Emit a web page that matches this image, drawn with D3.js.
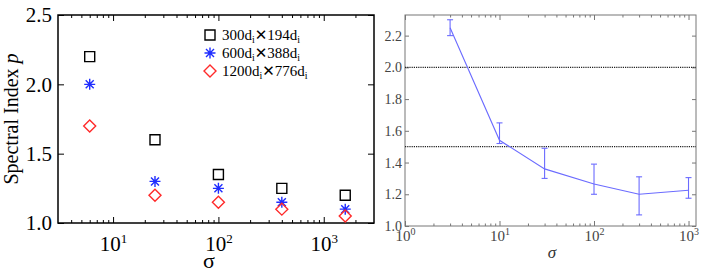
<!DOCTYPE html>
<html>
<head>
<meta charset="utf-8">
<script src="https://cdn.jsdelivr.net/npm/d3@7"></script>
<style>
  body { margin: 0; background: #fff; }
  svg { display: block; }
  svg text { font-family: "Liberation Serif", "Times New Roman", serif; }
  .sans { font-family: "DejaVu Sans", sans-serif; }
</style>
</head>
<body>
<svg id="chart" width="706" height="273"></svg>
<script>
// left panel: spectral index vs sigma for three box sizes
const sigmaL = [6, 25, 100, 400, 1600];
const pSmall = [2.2, 1.6, 1.35, 1.25, 1.2];
const pMid = [2.0, 1.3, 1.25, 1.15, 1.1];
const pLarge = [1.7, 1.2, 1.15, 1.1, 1.05];
const legendLabels = [
  ["300", "194"],
  ["600", "388"],
  ["1200", "776"],
];
const yTicksL = [1.0, 1.5, 2.0, 2.5];
const xMajorL = [10, 100, 1000];

// right panel: mean index with error bars
const sigmaR = [3, 10, 30, 100, 300, 1000];
const pMean = [2.25, 1.54, 1.36, 1.265, 1.2, 1.225];
const pLow = [2.2, 1.52, 1.3, 1.2, 1.07, 1.175];
const pHigh = [2.3, 1.65, 1.49, 1.39, 1.31, 1.305];
const refLines = [2.0, 1.5];
const yTicksR = [1.0, 1.2, 1.4, 1.6, 1.8, 2.0, 2.2];
const xMajorR = [1, 10, 100, 1000];

const svg = d3.select("#chart");

function minorTicks(lo, hi) {
  const out = [];
  for (let d = Math.pow(10, Math.floor(Math.log10(lo))); d < hi; d *= 10) {
    for (let k = 2; k <= 9; k++) {
      const v = k * d;
      if (v > lo && v < hi) out.push(v);
    }
  }
  return out;
}

function powLabels(sel, supSize, supDy) {
  sel.selectAll(".tick text").each(function (d) {
    const t = d3.select(this).text("");
    t.append("tspan").text("10");
    t.append("tspan")
      .attr("dy", supDy)
      .style("font-size", supSize + "px")
      .text(Math.round(Math.log10(d)));
  });
}

function styleAxis(g, color, width) {
  g.attr("font-family", null);
  g.select(".domain").remove();
  g.selectAll(".tick line").attr("stroke", color).attr("stroke-width", width);
}

// ---------- left panel ----------
const xL = d3.scaleLog().domain([3, 3000]).range([58, 374]);
const yL = d3.scaleLinear().domain([1, 2.5]).range([223, 15]);
const left = svg.append("g");

left.append("g")
  .attr("transform", `translate(0,${yL.range()[0]})`)
  .call(d3.axisBottom(xL).tickValues(minorTicks(3, 3000)).tickSize(-3).tickFormat(""))
  .call((g) => styleAxis(g, "#000", 1));
left.append("g")
  .attr("transform", `translate(0,${yL.range()[1]})`)
  .call(d3.axisTop(xL).tickValues(minorTicks(3, 3000)).tickSize(-3).tickFormat(""))
  .call((g) => styleAxis(g, "#000", 1));
left.append("g")
  .attr("transform", `translate(0,${yL.range()[1]})`)
  .call(d3.axisTop(xL).tickValues(xMajorL).tickSize(-6).tickFormat(""))
  .call((g) => styleAxis(g, "#000", 1));
left.append("g")
  .attr("transform", `translate(0,${yL.range()[0]})`)
  .call(d3.axisBottom(xL).tickValues(xMajorL).tickSize(-6).tickPadding(16))
  .call((g) => styleAxis(g, "#000", 1))
  .call((g) =>
    g.selectAll(".tick text")
      .style("font-size", "21px")
      .attr("fill", "#000")
      .attr("dy", "0.55em")
  )
  .call((g) => powLabels(g, 13, -8));

left.append("g")
  .attr("transform", `translate(${xL.range()[0]},0)`)
  .call(d3.axisLeft(yL).tickValues(yTicksL).tickSize(-6).tickPadding(6).tickFormat(d3.format(".1f")))
  .call((g) => styleAxis(g, "#000", 1))
  .call((g) =>
    g.selectAll(".tick text")
      .style("font-size", "21px")
      .attr("fill", "#000")
  );
left.append("g")
  .attr("transform", `translate(${xL.range()[1]},0)`)
  .call(d3.axisRight(yL).tickValues(yTicksL).tickSize(-6).tickFormat(""))
  .call((g) => styleAxis(g, "#000", 1));

left.append("rect")
  .attr("x", xL.range()[0])
  .attr("y", yL.range()[1])
  .attr("width", xL.range()[1] - xL.range()[0])
  .attr("height", yL.range()[0] - yL.range()[1])
  .attr("fill", "none")
  .attr("stroke", "#000")
  .attr("stroke-width", 1.5);

left.append("text")
  .attr("transform", `translate(18,${(yL.range()[0] + yL.range()[1]) / 2}) rotate(-90)`)
  .attr("text-anchor", "middle")
  .style("font-size", "20px")
  .call((t) => {
    t.append("tspan").text("Spectral Index ");
    t.append("tspan").style("font-style", "italic").text("p");
  });

left.append("text")
  .attr("x", 209)
  .attr("y", 268)
  .attr("text-anchor", "middle")
  .style("font-size", "22px")
  .text("σ");

// markers
const squarePath = "M-5,-5H5V5H-5Z";
const diamondPath = "M0,-6L6,0L0,6L-6,0Z";
const starPath = "M0,-5.5V5.5M-5.5,0H5.5M-4,-4L4,4M-4,4L4,-4";

const series = [
  { vals: pSmall, path: squarePath, color: "#000" },
  { vals: pMid, path: starPath, color: "#1f2dff" },
  { vals: pLarge, path: diamondPath, color: "#ff2a2a" },
];

series.forEach((s) => {
  left.append("g")
    .selectAll("path")
    .data(sigmaL.map((x, i) => [x, s.vals[i]]))
    .join("path")
    .attr("transform", (d) => `translate(${xL(d[0])},${yL(d[1])})`)
    .attr("d", s.path)
    .attr("fill", "none")
    .attr("stroke", s.color)
    .attr("stroke-width", 1.4);
});

// legend
const legend = left.append("g");
legendLabels.forEach((lab, i) => {
  const y = 35 + i * 18;
  legend.append("path")
    .attr("transform", `translate(210,${y})`)
    .attr("d", series[i].path)
    .attr("fill", "none")
    .attr("stroke", series[i].color)
    .attr("stroke-width", 1.4);
  const t = legend.append("text")
    .attr("x", 222)
    .attr("y", y + 5)
    .style("font-size", "15px");
  t.append("tspan").text(lab[0] + "d");
  t.append("tspan").style("font-size", "10px").attr("dy", 3).text("i");
  t.append("tspan").attr("dy", -3).attr("class", "sans").style("font-size", "15px").text("✕");
  t.append("tspan").text(lab[1] + "d");
  t.append("tspan").style("font-size", "10px").attr("dy", 3).text("i");
});

// ---------- right panel ----------
const xR = d3.scaleLog().domain([1, 1200]).range([405, 696]);
const yR = d3.scaleLinear().domain([1, 2.33]).range([226, 15]);
const right = svg.append("g");
const gray = "#777";

right.append("g")
  .attr("transform", `translate(0,${yR.range()[0]})`)
  .call(d3.axisBottom(xR).tickValues(minorTicks(1, 1200)).tickSize(-2.5).tickFormat(""))
  .call((g) => styleAxis(g, gray, 1));
right.append("g")
  .attr("transform", `translate(0,${yR.range()[1]})`)
  .call(d3.axisTop(xR).tickValues(minorTicks(1, 1200)).tickSize(-2.5).tickFormat(""))
  .call((g) => styleAxis(g, gray, 1));
right.append("g")
  .attr("transform", `translate(0,${yR.range()[1]})`)
  .call(d3.axisTop(xR).tickValues(xMajorR).tickSize(-5).tickFormat(""))
  .call((g) => styleAxis(g, gray, 1));
right.append("g")
  .attr("transform", `translate(0,${yR.range()[0]})`)
  .call(d3.axisBottom(xR).tickValues(xMajorR).tickSize(-5).tickPadding(6))
  .call((g) => styleAxis(g, gray, 1))
  .call((g) =>
    g.selectAll(".tick text")
      .style("font-size", "15px")
      .attr("fill", "#444")
      .attr("dy", "0.6em")
  )
  .call((g) => powLabels(g, 10, -6));

right.append("g")
  .attr("transform", `translate(${xR.range()[0]},0)`)
  .call(d3.axisLeft(yR).tickValues(yTicksR).tickSize(-4).tickPadding(3).tickFormat(d3.format(".1f")))
  .call((g) => styleAxis(g, gray, 1))
  .call((g) =>
    g.selectAll(".tick text")
      .style("font-size", "14px")
      .attr("fill", "#444")
  );
right.append("g")
  .attr("transform", `translate(${xR.range()[1]},0)`)
  .call(d3.axisRight(yR).tickValues(yTicksR).tickSize(-4).tickFormat(""))
  .call((g) => styleAxis(g, gray, 1));

right.append("rect")
  .attr("x", xR.range()[0])
  .attr("y", yR.range()[1])
  .attr("width", xR.range()[1] - xR.range()[0])
  .attr("height", yR.range()[0] - yR.range()[1])
  .attr("fill", "none")
  .attr("stroke", gray)
  .attr("stroke-width", 1);

right.append("g")
  .selectAll("line")
  .data(refLines)
  .join("line")
  .attr("x1", xR.range()[0])
  .attr("x2", xR.range()[1])
  .attr("y1", (d) => yR(d))
  .attr("y2", (d) => yR(d))
  .attr("stroke", "#222")
  .attr("stroke-width", 1.2)
  .attr("stroke-dasharray", "1.2,1");

const blue = "#6b6bff";
right.append("path")
  .datum(sigmaR.map((x, i) => [x, pMean[i]]))
  .attr("d", d3.line().x((d) => xR(d[0])).y((d) => yR(d[1])))
  .attr("fill", "none")
  .attr("stroke", blue)
  .attr("stroke-width", 1.1);

const errs = right.append("g")
  .selectAll("g")
  .data(sigmaR.map((x, i) => ({ x, lo: pLow[i], hi: pHigh[i] })))
  .join("g")
  .attr("stroke", blue)
  .attr("stroke-width", 1.1);
errs.append("line")
  .attr("x1", (d) => xR(d.x))
  .attr("x2", (d) => xR(d.x))
  .attr("y1", (d) => yR(d.lo))
  .attr("y2", (d) => yR(d.hi));
errs.selectAll("line.cap")
  .data((d) => [[d.x, d.lo], [d.x, d.hi]])
  .join("line")
  .attr("class", "cap")
  .attr("x1", (d) => xR(d[0]) - 3)
  .attr("x2", (d) => xR(d[0]) + 3)
  .attr("y1", (d) => yR(d[1]))
  .attr("y2", (d) => yR(d[1]));

right.append("text")
  .attr("x", 552)
  .attr("y", 258)
  .attr("text-anchor", "middle")
  .style("font-style", "italic")
  .style("font-size", "17px")
  .attr("fill", "#333")
  .text("σ");
</script>
</body>
</html>
